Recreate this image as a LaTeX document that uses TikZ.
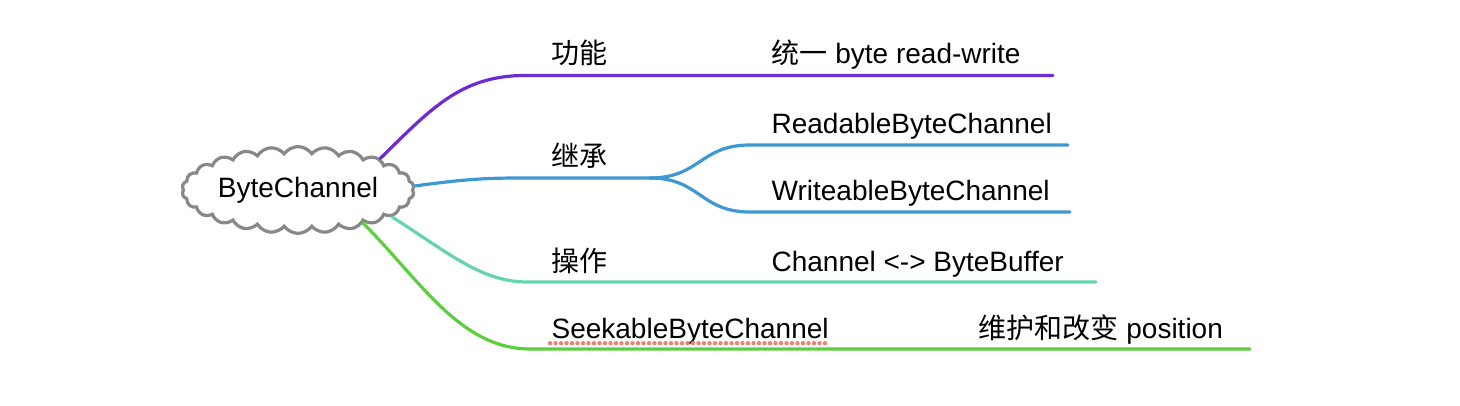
\documentclass[tikz,border=0pt]{standalone}
\usepackage{fontspec}
\setmainfont{Liberation Sans}
\newfontfamily\cjk{Noto Sans CJK SC}
\usetikzlibrary{shapes.symbols}
\definecolor{cloudgray}{HTML}{888888}
\definecolor{linepurple}{HTML}{6D2BD3}
\definecolor{lineblue}{HTML}{3F98D3}
\definecolor{lineteal}{HTML}{62D5AF}
\definecolor{linegreen}{HTML}{5DCF3E}
\definecolor{dotred}{HTML}{F0806F}
\begin{document}
\begin{tikzpicture}[x=0.5pt, y=-0.5pt, line width=1.6pt, line cap=round,
    main node/.style={cloud, cloud puffs=26, cloud puff arc=110, aspect=3.1, draw=cloudgray, fill=white,
      minimum width=116pt, minimum height=42pt, inner sep=0pt, font=\fontsize{14}{16}\selectfont},
    text node/.style={anchor=base west, inner sep=0pt, font=\fontsize{14}{16}\selectfont}]
  \useasboundingbox (0,0) rectangle (1460,406);
  \node[main node] (bc) at (298,190) {ByteChannel};
  % branch points and line ends
  \coordinate (f) at (525,75.5);   \coordinate (fe) at (1053,75.5);
  \coordinate (j) at (520,178);    \coordinate (js) at (650,178);
  \coordinate (r) at (750,145);    \coordinate (re) at (1068,145);
  \coordinate (w) at (750,212);    \coordinate (we) at (1070,212);
  \coordinate (o) at (527,282);    \coordinate (oe) at (1096,282);
  \coordinate (s) at (530,349);    \coordinate (se) at (1250,349);
  % labels
  \node[text node] (gn) at (550,64) {\cjk 功能};
  \node[text node] (gnt) at (770,64) {{\cjk 统一} byte read-write};
  \node[text node] (jc) at (550,167) {\cjk 继承};
  \node[text node] (rb) at (770,134) {ReadableByteChannel};
  \node[text node] (wb) at (770,201) {WriteableByteChannel};
  \node[text node] (cz) at (550,271) {\cjk 操作};
  \node[text node] (cb) at (770,271) {Channel <-> ByteBuffer};
  \node[text node] (sb) at (550,338) {SeekableByteChannel};
  \node[text node] (ps) at (977,338) {{\cjk 维护和改变} position};
  \draw[dotred, line width=2.2pt, dash pattern=on 0pt off 2.75pt]
    ([yshift=-2.6pt]sb.base west) -- ([yshift=-2.6pt]sb.base east);
  % connectors
  \draw[linepurple] (bc.21) .. controls (430,110) and (460,75.5) .. (f) -- (fe);
  \draw[lineblue] (bc.2) .. controls (460,180) and (480,178) .. (j) -- (js);
  \draw[lineblue] (js) .. controls (700,178) and (700,145) .. (r) -- (re);
  \draw[lineblue] (js) .. controls (700,178) and (700,212) .. (w) -- (we);
  \draw[lineteal] (bc.-16) .. controls (445,250) and (480,282) .. (o) -- (oe);
  \draw[linegreen] (bc.-27) .. controls (420,280) and (460,349) .. (s) -- (se);
\end{tikzpicture}
\end{document}
